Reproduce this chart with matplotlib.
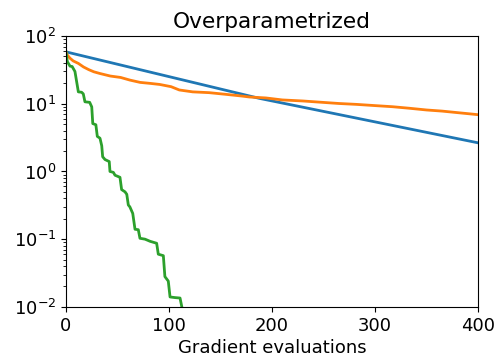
import matplotlib
matplotlib.use("Agg")
import matplotlib.pyplot as plt

# Gradient evaluations / loss values
gd_x = [0, 188, 400]
gd_y = [58.5, 12.0, 2.65]

sgd_x = [0, 1.5, 4, 7, 12, 17, 22, 27, 33, 43, 53, 62, 72, 82, 91, 102, 110, 123, 139, 155, 171, 178,
         194, 210, 230, 249, 265, 282, 300, 317, 333, 350, 365, 380, 392, 400]
sgd_y = [58, 52, 47, 43, 39.5, 35, 32, 29.7, 28, 25.7, 24.5, 22.4, 20.7, 20, 19.3, 17.9, 16, 15,
         14.6, 13.8, 13, 12.6, 12.2, 11.4, 11.0, 10.5, 10.1, 9.8, 9.4, 9.05, 8.6, 8.1, 7.8, 7.4, 7.1, 6.9]

svrg_x = [0, 1.3, 3.9, 6, 8.7, 10.4, 12, 15.2, 16.8, 18.4, 23, 25, 26, 29, 30.4, 33, 34.7, 35.6,
          37.9, 42, 42.7, 46, 47.6, 52.4, 54, 57.3, 59, 60.5, 62, 64.8, 67, 70.2, 71.8, 76.7, 81.6,
          88, 89.6, 94.5, 96, 99.3, 101, 105.8, 110.7, 112.5]
svrg_y = [58, 42, 36, 35.5, 30, 21, 15, 14.8, 14, 10.7, 10.5, 9, 5.1, 4.9, 3.3, 3.1, 2.4, 1.65,
          1.5, 1.4, 1.0, 0.97, 0.88, 0.82, 0.54, 0.5, 0.46, 0.32, 0.3, 0.24, 0.14, 0.138, 0.103,
          0.1, 0.093, 0.087, 0.06, 0.057, 0.028, 0.024, 0.014, 0.0137, 0.0135, 0.0099]

fig = plt.figure(figsize=(4.98, 3.61), dpi=100)
ax = fig.add_axes([0.1325, 0.15, 0.8275, 0.75])

ax.plot(gd_x, gd_y, color="tab:blue", linewidth=2)
ax.plot(sgd_x, sgd_y, color="tab:orange", linewidth=2)
ax.plot(svrg_x, svrg_y, color="tab:green", linewidth=2)

ax.set_yscale("log")
ax.set_xlim(0, 400)
ax.set_ylim(1e-2, 1e2)
ax.set_xticks([0, 100, 200, 300, 400])
ax.tick_params(labelsize=13)
ax.set_xlabel("Gradient evaluations", fontsize=13, labelpad=3)
ax.set_title("Overparametrized", fontsize=15.6)

fig.savefig("out.png", dpi=100, facecolor="white")
